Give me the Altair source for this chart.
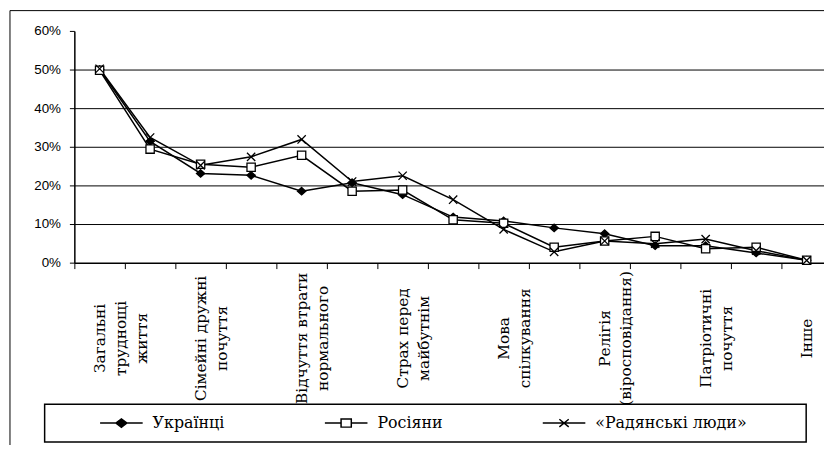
import json
import altair as alt
import pandas as pd

# ---- data ----
categories = list(range(15))
x_labels = [
    ["Загальні", "труднощі", "життя"], "",
    ["Сімейні  дружні", "почуття"], "",
    ["Відчуття  втрати", "нормального"], "",
    ["Страх перед", "майбутнім"], "",
    ["Мова", "спілкування"], "",
    ["Релігія", "(віросповідання)"], "",
    ["Патріотичні", "почуття"], "",
    ["Інше"],
]
series_names = ["Українці", "Росіяни", "«Радянські люди»"]
ukr = [50.0, 31.4, 23.1, 22.6, 18.5, 20.7, 17.6, 11.8, 10.8, 9.0, 7.5, 4.4, 4.4, 2.5, 0.6]
rus = [49.8, 29.4, 25.5, 24.7, 27.8, 18.5, 18.8, 11.1, 10.2, 4.0, 5.6, 6.8, 3.6, 4.0, 0.6]
sov = [50.2, 32.4, 25.2, 27.4, 31.9, 21.0, 22.5, 16.3, 8.6, 2.8, 5.6, 4.9, 6.1, 3.1, 0.6]
y_ticks = [0, 10, 20, 30, 40, 50, 60]

rows = []
for name, vals in zip(series_names, [ukr, rus, sov]):
    for i, v in zip(categories, vals):
        rows.append({"cat": i, "series": name, "value": v})
df = pd.DataFrame(rows)

marker_paths = [
    "M0,-0.9L1,0L0,0.9L-1,0Z",
    "M-1,-1H1V1H-1Z",
    "M-1,-1L1,1M-1,1L1,-1",
]
legend_paths = [
    "M-1,0H1M-0.26,0L0,-0.2L0.26,0L0,0.2Z",
    "M-1,0H-0.24M0.24,0H1M-0.24,-0.19H0.24V0.19H-0.24Z",
    "M-1,0H1M-0.22,-0.18L0.22,0.18M-0.22,0.18L0.22,-0.18",
]
fills = ["black", "white", "white"]
strokes = ["black", "black", "black"]

label_expr = json.dumps(x_labels, ensure_ascii=False) + "[datum.value]"

SERIF = "DejaVu Serif"

x_enc = alt.X(
    "cat:O",
    scale=alt.Scale(type="band", paddingInner=0, paddingOuter=0, range=[0, 765]),
    axis=alt.Axis(
        title=None, labelExpr=label_expr, labelAngle=270, labelAlign="center",
        labelBaseline="middle", labelPadding=70, labelLineHeight=21,
        tickBand="extent", tickSize=6, tickColor="black", tickWidth=1,
        domainColor="black", domainWidth=1.5, grid=False,
        labelFont=SERIF, labelFontSize=15.5, labelColor="black",
        labelOverlap=False, labelBound=False, labelFlush=False,
    ),
)
y_enc = alt.Y(
    "value:Q",
    scale=alt.Scale(domain=[0, 60], nice=False),
    axis=alt.Axis(
        title=None, values=y_ticks, labelExpr="datum.value + '%'",
        tickSize=5, tickColor="black", labelPadding=9,
        domainColor="black", domainWidth=1.5,
        labelFont="Liberation Sans", labelFontSize=13.5, labelColor="black",
        gridColor="black", gridWidth=1,
        gridOpacity={"condition": {"test": "datum.value <= 0 || datum.value >= 60", "value": 0}, "value": 1},
    ),
)

one = pd.DataFrame({"a": [0]})
frame = alt.Chart(one).mark_rect(fillOpacity=0, stroke="black", strokeWidth=1).encode(
    x=alt.value(-65), x2=alt.value(900), y=alt.value(-20.5), y2=alt.value(700)
)
legend_box = alt.Chart(one).mark_rect(fill="white", stroke="black", strokeWidth=1.5).encode(
    x=alt.value(-30), x2=alt.value(739), y=alt.value(377), y2=alt.value(415)
)

base = alt.Chart(df)
lines = base.mark_line(color="black", strokeWidth=1.5).encode(
    x=x_enc, y=y_enc, detail="series:N", order="cat:O"
)
points = base.mark_point(filled=True, stroke="black", strokeWidth=1.3, size=70, opacity=1).encode(
    x=x_enc, y=y_enc,
    shape=alt.Shape("series:N", scale=alt.Scale(domain=series_names, range=marker_paths), legend=None),
    fill=alt.Fill("series:N", scale=alt.Scale(domain=series_names, range=fills), legend=None),
)
leg = alt.Legend(
    title=None, orient="none", legendX=25, legendY=388, direction="horizontal",
    symbolSize=1849, clipHeight=16, labelOffset=9, columnPadding=100, padding=0,
    labelFont=SERIF, labelFontSize=16, labelColor="black",
    symbolStrokeWidth=1.5, symbolStrokeColor="black", symbolOpacity=1,
)
legend_layer = base.mark_point(filled=True, strokeWidth=1.5, size=1849, opacity=1).encode(
    x=x_enc, y=alt.value(-3000),
    shape=alt.Shape("series:N", scale=alt.Scale(domain=series_names, range=legend_paths), legend=leg),
    fill=alt.Fill("series:N", scale=alt.Scale(domain=series_names, range=fills), legend=leg),
    stroke=alt.Stroke("series:N", scale=alt.Scale(domain=series_names, range=strokes), legend=leg),
)

chart = (
    alt.layer(frame, legend_box, lines, points, legend_layer)
    .resolve_scale(shape="independent", fill="independent", stroke="independent")
    .properties(
        width=757, height=234,
        padding={"left": 67, "top": 21, "right": 0, "bottom": 182},
        autosize=alt.AutoSizeParams(type="none"),
        background="white",
    )
    .configure_view(stroke=None)
)

chart.save("out.html", embed_options={"renderer": "svg", "actions": False})
